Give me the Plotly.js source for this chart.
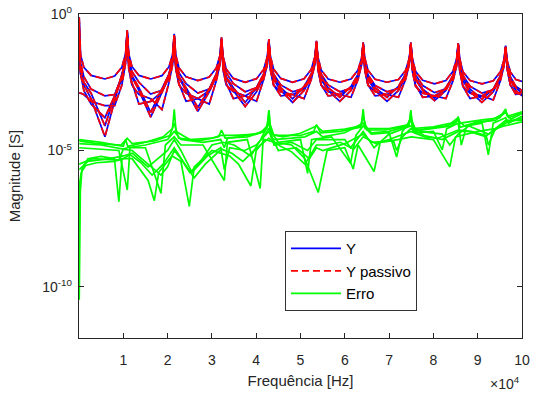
<!DOCTYPE html>
<html><head><meta charset="utf-8">
<script src="https://cdn.plot.ly/plotly-3.0.1.min.js"></script>
<style>html,body{margin:0;padding:0;background:#fff}#plot{width:533px;height:394px}</style>
</head><body><div id="plot"></div>
<script>
// Frequency grid (Hz) shared by the admittance curves
const freqY = [
  50, 360, 1090, 2720, 5850, 8050, 9680, 10520,
  10880, 11230, 11940, 13530, 16180, 18730, 20320, 21140,
  21490, 21840, 22560, 24160, 26830, 29390, 30990, 31820,
  32170, 32520, 33240, 34840, 37510, 40080, 41680, 42510,
  42860, 43210, 43930, 45550, 48230, 50810, 52420, 53250,
  53600, 53950, 54660, 56240, 58880, 61410, 62990, 63800,
  64150, 64500, 65230, 66840, 69530, 72110, 73720, 74550,
  74900, 75250, 75970, 77580, 80250, 82820, 84420, 85250,
  85600, 85950, 86670, 88280, 90950, 93520, 95120, 95950,
  96300, 96650, 97370, 98600, 100000
];
// log10 |Y| (one array per matrix element)
const Y1_log10 = [
  -0.12,-1.5,-1.95,-2.25,-2.38,-2.27,-1.95,-1.45,
  -0.59,-1.45,-1.92,-2.25,-2.38,-2.26,-1.93,-1.47,
  -0.73,-1.5,-1.97,-2.3,-2.44,-2.31,-1.98,-1.52,
  -0.85,-1.55,-2.02,-2.36,-2.5,-2.37,-2.03,-1.57,
  -0.92,-1.55,-2.02,-2.36,-2.5,-2.37,-2.03,-1.57,
  -0.98,-1.58,-2.05,-2.38,-2.5,-2.38,-2.05,-1.6,
  -1.04,-1.6,-2.06,-2.39,-2.5,-2.4,-2.07,-1.62,
  -1.04,-1.62,-2.1,-2.43,-2.56,-2.44,-2.1,-1.63,
  -1.07,-1.64,-2.12,-2.44,-2.56,-2.45,-2.12,-1.67,
  -1.16,-1.7,-2.12,-2.4,-2.47
];
const Y2_log10 = [
  -0.3,-1.8,-2.3,-2.75,-3.0,-2.95,-2.3,-1.6,
  -0.65,-1.6,-2.1,-2.5,-2.93,-2.8,-2.2,-1.6,
  -0.78,-1.65,-2.15,-2.55,-2.9,-2.75,-2.2,-1.65,
  -0.9,-1.65,-2.15,-2.55,-2.85,-2.7,-2.2,-1.65,
  -0.97,-1.7,-2.2,-2.6,-2.85,-2.72,-2.25,-1.7,
  -1.02,-1.7,-2.2,-2.6,-2.85,-2.72,-2.25,-1.7,
  -1.08,-1.72,-2.22,-2.62,-2.85,-2.72,-2.25,-1.72,
  -1.08,-1.72,-2.22,-2.62,-2.88,-2.75,-2.28,-1.75,
  -1.1,-1.75,-2.25,-2.65,-2.9,-2.78,-2.3,-1.78,
  -1.2,-1.8,-2.3,-2.65,-2.8
];
const Y3_log10 = [
  -1.5,-2.2,-2.6,-3.1,-4.5,-3.2,-2.3,-1.7,
  -0.7,-1.8,-2.3,-2.8,-3.78,-2.9,-2.3,-1.75,
  -0.82,-1.85,-2.35,-2.8,-3.57,-2.85,-2.3,-1.8,
  -0.95,-1.85,-2.35,-2.8,-3.39,-2.85,-2.3,-1.8,
  -1.0,-1.9,-2.4,-2.8,-3.24,-2.8,-2.3,-1.8,
  -1.05,-1.9,-2.4,-2.8,-3.2,-2.8,-2.3,-1.8,
  -1.1,-1.9,-2.4,-2.8,-3.2,-2.8,-2.3,-1.8,
  -1.1,-1.9,-2.4,-2.8,-3.17,-2.8,-2.3,-1.8,
  -1.12,-1.95,-2.45,-2.85,-3.24,-2.85,-2.35,-1.85,
  -1.22,-1.9,-2.4,-2.8,-3.0
];
const Y4_log10 = [
  -0.8,-2.0,-2.5,-2.9,-4.1,-3.0,-2.4,-1.65,
  -0.68,-1.75,-2.25,-2.7,-3.6,-2.75,-2.2,-1.7,
  -0.8,-1.8,-2.3,-2.7,-3.42,-2.75,-2.2,-1.75,
  -0.92,-1.8,-2.3,-2.7,-3.24,-2.7,-2.2,-1.75,
  -0.98,-1.8,-2.3,-2.7,-3.11,-2.65,-2.2,-1.75,
  -1.03,-1.8,-2.3,-2.7,-3.05,-2.65,-2.2,-1.75,
  -1.08,-1.8,-2.3,-2.7,-3.05,-2.65,-2.2,-1.75,
  -1.08,-1.85,-2.35,-2.75,-3.08,-2.7,-2.25,-1.8,
  -1.1,-1.85,-2.35,-2.75,-3.12,-2.75,-2.25,-1.8,
  -1.2,-1.85,-2.35,-2.7,-2.9
];
const Y5_log10 = [
  -2.9,-2.9,-2.95,-3.2,-3.36,-3.36,-2.6,-1.8,
  -0.75,-2.0,-2.6,-2.95,-3.1,-3.5,-2.5,-1.85,
  -0.85,-2.0,-2.6,-2.9,-3.1,-3.3,-2.45,-1.85,
  -0.97,-2.05,-2.6,-2.85,-3.0,-3.2,-2.4,-1.85,
  -1.02,-2.05,-2.6,-2.85,-2.95,-3.1,-2.4,-1.85,
  -1.07,-2.05,-2.6,-2.85,-2.95,-3.05,-2.4,-1.85,
  -1.12,-2.05,-2.6,-2.85,-2.95,-3.05,-2.4,-1.85,
  -1.12,-2.1,-2.65,-2.9,-3.0,-3.1,-2.45,-1.9,
  -1.15,-2.1,-2.65,-2.9,-3.0,-3.15,-2.45,-1.9,
  -1.25,-2.0,-2.6,-2.9,-2.95
];
const Y6_log10 = [
  -1.0,-2.2,-2.8,-3.3,-3.8,-3.0,-2.25,-1.65,
  -0.72,-1.9,-2.5,-3.3,-3.2,-2.85,-2.3,-1.7,
  -0.83,-1.95,-2.55,-3.2,-3.1,-2.8,-2.3,-1.75,
  -0.95,-1.95,-2.55,-3.1,-3.0,-2.75,-2.25,-1.75,
  -1.0,-2.0,-2.6,-3.0,-2.95,-2.75,-2.25,-1.75,
  -1.05,-2.0,-2.6,-3.0,-2.95,-2.7,-2.25,-1.75,
  -1.1,-2.0,-2.6,-3.0,-2.95,-2.7,-2.25,-1.75,
  -1.1,-2.0,-2.6,-3.05,-3.0,-2.75,-2.3,-1.8,
  -1.13,-2.05,-2.65,-3.1,-3.0,-2.75,-2.3,-1.8,
  -1.22,-2.0,-2.6,-2.95,-2.85
];
// Error curves: frequency (Hz) and log10 |error|
const E1_freq = [50,5000,10000,10500,11000,15000,19000,21100,21500,21900,25000,30000,32000,35000,40000,42400,42900,43300,46000,50000,53600,55000,60000,63700,64150,64600,70000,74500,74900,75300,80000,84000,85600,86000,91000,95000,96300,96700,100000];
const E1_log10 = [-4.6,-4.7,-4.85,-4.6,-4.85,-4.7,-4.5,-4.2,-3.49,-4.3,-4.6,-4.55,-4.45,-4.45,-4.4,-4.2,-3.55,-4.4,-4.5,-4.37,-4.1,-4.3,-4.22,-4.1,-3.48,-4.2,-4.2,-4.05,-3.6,-4.2,-4.13,-4.0,-3.8,-4.0,-3.88,-3.8,-3.48,-3.75,-3.58];
const E2_freq = [50,5000,10000,11000,15000,20000,21500,23000,28000,32000,32800,33500,36000,41000,42500,42860,43300,44000,48000,51000,53600,55000,60000,64150,66000,70000,74500,74900,75400,80000,84000,85250,85600,86000,90000,94000,96300,97500,100000];
const E2_log10 = [-4.75,-4.8,-4.95,-4.9,-4.8,-4.6,-4.3,-4.6,-4.7,-4.6,-4.9,-4.55,-4.5,-4.35,-4.1,-3.52,-4.5,-4.6,-4.55,-4.5,-4.3,-4.5,-4.35,-4.0,-4.35,-4.3,-4.1,-3.52,-4.3,-4.2,-4.1,-3.95,-3.76,-4.15,-3.95,-3.9,-3.6,-3.85,-3.65];
const E3_freq = [50,6000,9000,10900,11500,15000,18500,19500,21500,23000,28000,32800,33500,38000,40900,41600,42860,45000,50000,51600,52500,57000,61300,62500,64150,66000,70000,71700,73000,74900,76000,80000,82000,83000,85600,86300,87500,91000,92400,93500,96300,97000,100000];
const E3_log10 = [-4.9,-4.95,-5.0,-6.45,-4.9,-4.9,-6.57,-4.8,-4.5,-4.8,-4.8,-6.1,-4.7,-4.6,-6.39,-4.5,-4.2,-4.7,-4.6,-5.84,-4.6,-4.5,-5.47,-4.45,-4.1,-4.4,-4.35,-5.24,-4.3,-3.9,-4.35,-4.3,-4.98,-4.2,-4.0,-4.8,-4.1,-4.0,-5.16,-4.0,-3.8,-4.0,-3.75];
const E4_freq = [50,300,700,2000,5000,8000,9000,9700,12000,15600,17000,18000,21000,23000,24900,26000,30000,34000,36000,38800,40000,42000,44000,48000,51000,54000,56000,60000,61900,63000,66600,68000,72000,75000,80000,83700,85000,90000,94000,96000,100000];
const E4_log10 = [-10.47,-6.5,-5.65,-5.3,-5.22,-5.3,-6.88,-5.3,-5.3,-6.1,-6.84,-5.8,-5.2,-5.4,-7.05,-5.6,-5.0,-5.2,-5.5,-6.3,-5.0,-4.6,-4.7,-4.8,-5.3,-6.54,-5.0,-4.9,-5.68,-4.8,-5.77,-4.7,-4.6,-4.5,-4.6,-5.6,-4.5,-4.3,-4.2,-4.1,-3.95];
const E5_freq = [50,2000,7000,10000,12000,15600,20000,21500,23000,25500,29000,32000,32800,34000,37400,40000,42860,45000,49000,52000,53600,55000,60000,64150,66000,71000,71700,73000,74900,78000,82000,85600,88000,92000,92400,94000,96300,100000];
const E5_log10 = [-5.7,-5.4,-5.3,-5.2,-5.1,-5.6,-5.0,-4.6,-5.0,-5.8,-5.2,-4.9,-5.7,-4.9,-5.0,-4.8,-4.3,-5.0,-4.9,-5.3,-4.9,-5.0,-4.75,-4.4,-4.7,-4.65,-5.0,-4.5,-4.2,-4.45,-4.6,-4.3,-4.3,-4.5,-4.8,-4.2,-3.9,-3.9];
const E6_freq = [50,3000,9000,10000,12000,15600,18500,20000,21500,23000,25000,27000,30000,32500,35000,38800,41000,42860,44000,48000,51600,53600,56000,60000,61300,64150,66600,70000,74900,77000,82000,83700,85600,88000,92400,96300,98000,100000];
const E6_log10 = [-5.5,-5.3,-5.35,-4.95,-5.0,-5.5,-5.9,-5.6,-5.0,-5.3,-5.8,-5.5,-4.8,-4.7,-4.8,-5.2,-4.6,-4.0,-4.8,-4.7,-5.0,-4.6,-4.6,-4.6,-4.9,-4.3,-4.9,-4.4,-4.1,-4.3,-4.4,-4.8,-4.4,-4.1,-4.4,-4.0,-3.9,-3.8];
const E7_freq = [50,4000,9500,10880,12000,17000,20500,21490,22500,27000,31500,32170,33000,38000,42000,42860,44000,50000,53000,53600,54500,59000,63500,64150,65000,69000,74000,74900,76000,83000,85600,87000,93000,96300,97000,100000];
const E7_log10 = [-4.65,-4.75,-4.8,-4.55,-4.75,-4.65,-4.45,-4.0,-4.55,-4.65,-4.5,-4.25,-4.55,-4.5,-4.3,-3.9,-4.45,-4.45,-4.3,-4.05,-4.35,-4.3,-4.15,-3.75,-4.25,-4.25,-4.1,-3.8,-4.25,-4.1,-3.9,-4.1,-3.9,-3.6,-3.8,-3.62];
const E8_freq = [50,150,500,1500,4000,8000,10000,11500,14000,16500,19000,21490,23500,26000,28500,32170,34500,37000,39500,42860,45500,48000,51000,53600,56000,59000,62000,64150,67000,70000,74900,78000,81000,85600,88500,92000,96300,100000];
const E8_log10 = [-8.0,-6.2,-5.8,-5.55,-5.45,-5.4,-5.3,-5.15,-5.45,-5.9,-5.5,-4.9,-5.4,-6.0,-5.5,-4.95,-5.1,-5.4,-5.0,-4.55,-4.85,-5.05,-5.5,-4.8,-4.8,-4.7,-4.95,-4.5,-4.75,-4.6,-4.3,-4.5,-4.55,-4.25,-4.3,-4.45,-3.95,-3.85];

const xTickVals = [10000,20000,30000,40000,50000,60000,70000,80000,90000,100000];
const xTickText = ['1','2','3','4','5','6','7','8','9','10'];
const yTickVals = [1e-10,1e-5,1];
const yTickText = ['10<sup>-10</sup>','10<sup>-5</sup>','10<sup>0</sup>'];

const toMag = a => a.map(e => Math.pow(10, e));
const Ysets = [Y1_log10,Y2_log10,Y3_log10,Y4_log10,Y5_log10,Y6_log10];
const Esets = [[E1_freq,E1_log10],[E2_freq,E2_log10],[E3_freq,E3_log10],[E4_freq,E4_log10],[E5_freq,E5_log10],[E6_freq,E6_log10],[E7_freq,E7_log10],[E8_freq,E8_log10]];

const traces = [];
Ysets.forEach((s,i) => traces.push({x:freqY, y:toMag(s), type:'scatter', mode:'lines', name:'Y', legendgroup:'Y', showlegend:i===0, line:{color:'#0000FF', width:1.7}}));
Ysets.forEach((s,i) => traces.push({x:freqY, y:toMag(s), type:'scatter', mode:'lines', name:'Y passivo', legendgroup:'Yp', showlegend:i===0, line:{color:'#FF0000', width:1.7, dash:'7px,4px'}}));
Esets.forEach((s,i) => traces.push({x:s[0], y:toMag(s[1]), type:'scatter', mode:'lines', name:'Erro', legendgroup:'E', showlegend:i===0, line:{color:'#00FF00', width:1.7}}));

const axCommon = {ticks:'inside', ticklen:5, tickwidth:1, tickcolor:'#262626', showline:true, linecolor:'#262626', linewidth:1.3, mirror:'ticks', showgrid:false, zeroline:false, tickfont:{size:14, color:'#262626'}};
const layout = {
  width:533, height:394,
  margin:{l:79, r:11, t:14, b:56},
  paper_bgcolor:'#fff', plot_bgcolor:'#fff',
  font:{family:'"Liberation Sans", Arial, sans-serif', size:13, color:'#262626'},
  showlegend:true,
  legend:{x:0.465, y:0.33, xanchor:'left', yanchor:'top', bgcolor:'#fff', bordercolor:'#333', borderwidth:1, itemwidth:50, font:{size:15, color:'#000'}, tracegroupgap:0, traceorder:'normal'},
  xaxis:Object.assign({}, axCommon, {range:[0,100000], tickmode:'array', tickvals:xTickVals, ticktext:xTickText, ticklabelstandoff:9, title:{text:'Frequência [Hz]', font:{size:15, color:'#262626'}, standoff:8}}),
  yaxis:Object.assign({}, axCommon, {type:'log', range:[-11.87,0], tickmode:'array', tickvals:yTickVals, ticktext:yTickText, ticklabelstandoff:3, title:{text:'Magnitude [S]', font:{size:15, color:'#262626'}, standoff:18}}),
  annotations:[{text:'×10<sup>4</sup>', xref:'paper', yref:'paper', x:1.0, y:-0.14, xanchor:'right', yanchor:'middle', showarrow:false, font:{size:14, color:'#262626'}}]
};
Plotly.newPlot('plot', traces, layout, {staticPlot:true, displayModeBar:false});
</script></body></html>
